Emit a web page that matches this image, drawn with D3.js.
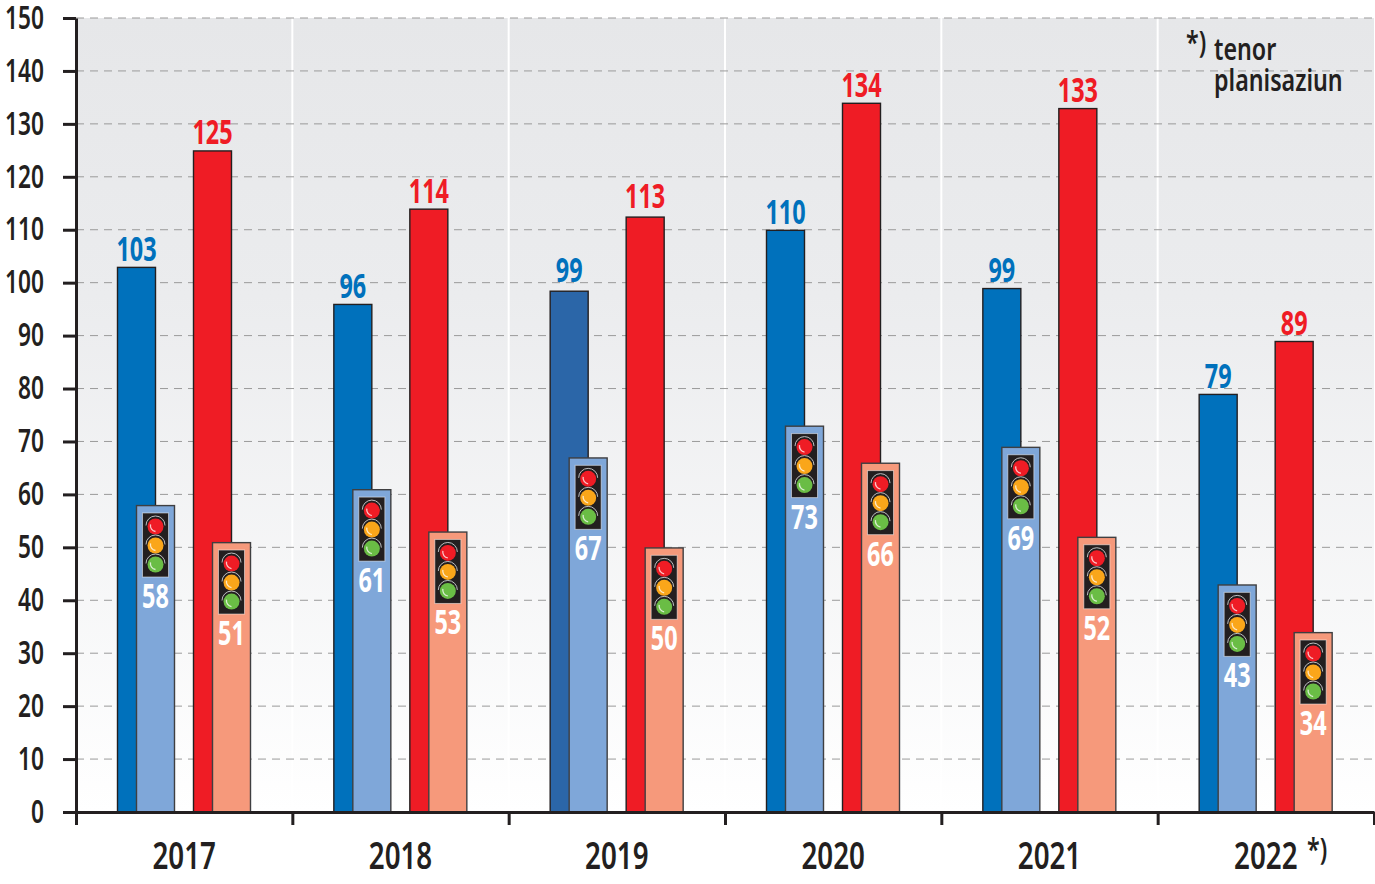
<!DOCTYPE html>
<html lang="en">
<head>
    <meta charset="UTF-8">
    <title>tenor planisaziun</title>
    <script src="https://d3js.org/d3.v7.min.js"></script>
    <style>
        html, body { margin: 0; padding: 0; background: #fff; }
        svg { display: block; }
        text { font-family: "Noto Sans", "Open Sans", sans-serif; fill: #231f20; font-weight: 600; }
        .axis path, .axis line { stroke: #231f20; stroke-width: 3; }
        .axis text { font-size: 32px; }
        .grid line { stroke: #9a9a9a; stroke-width: 1; stroke-dasharray: 8 6; }
        .value { font-size: 34px; font-weight: 700; text-anchor: middle; }
    </style>
</head>
<body>
    <div id="chart"></div>
    <script>
        const years = ["2017", "2018", "2019", "2020", "2021", "2022"];
        const yTicks = d3.range(0, 151, 10);
        const blueTall = [103, 96, 98.5, 110, 99, 79];
        const blueShort = [58, 61, 67, 73, 69, 43];
        const redTall = [125, 114, 112.5, 134, 133, 89];
        const redShort = [51, 53, 50, 66, 52, 34];

        const seriesNames = ["blueTall", "blueShort", "redTall", "redShort"];
        const seriesValues = { blueTall, blueShort, redTall, redShort };

        const width = 1375, height = 884;
        const margin = { top: 18, right: 1, bottom: 72, left: 76 };

        const svg = d3.select("#chart").append("svg")
            .attr("width", width)
            .attr("height", height);

        const x = d3.scaleBand().domain(years).range([margin.left, width - margin.right]);
        const y = d3.scaleLinear().domain([0, 150]).range([height - margin.bottom, margin.top]);
        // bars inside one year sit unevenly, so the offsets go through an ordinal scale
        const offset = d3.scaleOrdinal().domain(seriesNames).range([41.5, 60.5, 117.5, 136.5]);
        const fill = d3.scaleOrdinal().domain(seriesNames).range(["#0071bc", "#7fa7d9", "#ef1c25", "#f6997b"]);
        const edge = d3.scaleLinear().domain([0, years.length]).range(x.range());
        const barW = 38;

        // no condensed font is installed, so text gets squeezed horizontally
        function squeeze(sel, px, py, sx) {
            sel.attr("transform", d => `translate(${px(d)},${py(d)}) scale(${sx},1)`);
        }

        // background
        const grad = svg.append("defs").append("linearGradient")
            .attr("id", "bg").attr("x1", 0).attr("y1", 0).attr("x2", 0).attr("y2", 1);
        grad.append("stop").attr("offset", "0%").attr("stop-color", "#e6e7e9");
        grad.append("stop").attr("offset", "35%").attr("stop-color", "#ebecee");
        grad.append("stop").attr("offset", "100%").attr("stop-color", "#ffffff");
        svg.append("rect")
            .attr("x", edge(0)).attr("y", y(150))
            .attr("width", edge(6) - edge(0)).attr("height", y(0) - y(150))
            .attr("fill", "url(#bg)");

        // white separators between the years
        svg.selectAll(".sep").data(d3.range(1, years.length))
            .enter().append("line")
            .attr("class", "sep")
            .attr("x1", d => edge(d)).attr("x2", d => edge(d))
            .attr("y1", y(150)).attr("y2", y(0))
            .attr("stroke", "#fff").attr("stroke-width", 2);

        // grid
        svg.append("g").attr("class", "grid")
            .selectAll("line").data(yTicks.slice(1))
            .enter().append("line")
            .attr("x1", edge(0)).attr("x2", edge(6))
            .attr("y1", d => y(d)).attr("y2", d => y(d));

        // bars, drawn in series order so the short ones overlap the tall ones
        const rows = seriesNames.flatMap(s => years.map((yr, i) => ({ s, yr, v: seriesValues[s][i] })));
        svg.selectAll(".bar").data(rows)
            .enter().append("rect")
            .attr("class", "bar")
            .attr("x", d => x(d.yr) + offset(d.s))
            .attr("y", d => y(d.v) + 0.6)
            .attr("width", barW)
            .attr("height", d => y(0) - y(d.v) - 0.6)
            .attr("fill", d => (d.s === "blueTall" && d.yr === "2019") ? "#2b66a8" : fill(d.s))
            .attr("stroke", d => d.s.endsWith("Short") ? "#3f3f41" : "#231f20")
            .attr("stroke-width", 1.4);

        // traffic lights on the short bars
        const shortRows = rows.filter(d => d.s.endsWith("Short"));
        const lamps = [["#ef1c25", 13.5], ["#faa61a", 32.5], ["#6abd45", 51.5]];
        const light = svg.selectAll(".light").data(shortRows)
            .enter().append("g")
            .attr("class", "light")
            .attr("transform", d => `translate(${x(d.yr) + offset(d.s) + 6},${y(d.v) + 8})`);
        light.append("rect")
            .attr("width", 26).attr("height", 64)
            .attr("fill", "#231f20").attr("stroke", "#fff").attr("stroke-opacity", 0.5).attr("stroke-width", 1);
        lamps.forEach(([col, cy]) => {
            light.append("path")
                .attr("d", `M3.5,${cy - 1}A9.5,9.5 0 0 1 22.5,${cy - 1}`)
                .attr("fill", "none").attr("stroke", "#bcbec0").attr("stroke-width", 1);
            light.append("circle")
                .attr("cx", 13).attr("cy", cy).attr("r", 8)
                .attr("fill", col);
            light.append("path")
                .attr("d", `M8,${cy - 2}A6,6 0 0 0 13,${cy + 5}`)
                .attr("fill", "none").attr("stroke", "#fff").attr("stroke-opacity", 0.75).attr("stroke-width", 1.3);
        });

        // value labels
        svg.selectAll(".value").data(rows)
            .enter().append("text")
            .attr("class", "value")
            .style("fill", d => d.s.endsWith("Short") ? "#fff" : (d.s === "blueTall" ? "#0071bc" : "#ef1c25"))
            .text(d => Math.round(d.v))
            .call(squeeze,
                d => x(d.yr) + offset(d.s) + barW / 2,
                d => d.s.endsWith("Short") ? y(d.v) + 103 : y(Math.round(d.v)) - 6,
                0.69);

        // axes
        const sxTick = 0.71;
        svg.append("g").attr("class", "axis")
            .attr("transform", `translate(${margin.left},0)`)
            .call(d3.axisLeft(y).tickValues(yTicks).tickSize(13).tickSizeOuter(0).tickPadding(19))
            .selectAll("text")
            .attr("x", -32 / sxTick)
            .attr("transform", `scale(${sxTick},1)`);
        svg.append("g").attr("class", "axis")
            .attr("transform", `translate(0,${y(0)})`)
            .call(d3.axisBottom(edge).tickValues(d3.range(0, years.length + 1)).tickSize(13).tickSizeOuter(0).tickFormat(""));

        svg.append("g").selectAll(".year").data(years)
            .enter().append("text")
            .attr("class", "year")
            .attr("text-anchor", "middle")
            .attr("font-size", 37)
            .text(d => d)
            .call(squeeze, d => x(d) + x.bandwidth() / 2, () => 869, 0.75);

        // footnote marks
        const notes = [["*)", 1186, 53], ["tenor", 1214, 60], ["planisaziun", 1214, 91], ["*)", 1307, 860]];
        svg.append("g").attr("font-size", 31).selectAll("text").data(notes)
            .enter().append("text")
            .text(d => d[0])
            .call(squeeze, d => d[1], d => d[2], 0.75);
    </script>
</body>
</html>
